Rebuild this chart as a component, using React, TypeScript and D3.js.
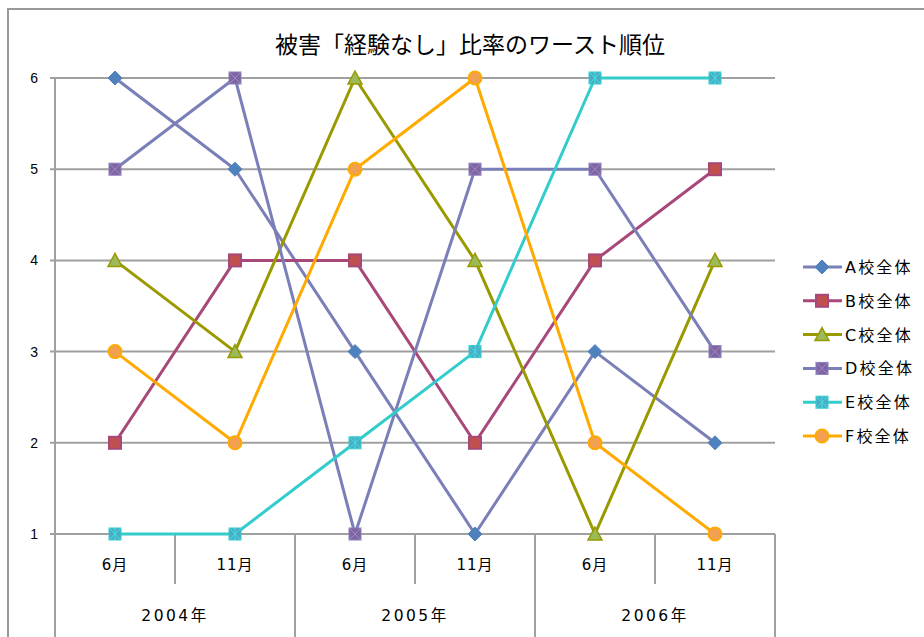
import React from "react";
import * as d3 from "d3";

const title = "被害「経験なし」比率のワースト順位";
const months = ["6月", "11月", "6月", "11月", "6月", "11月"];
const years = ["2004年", "2005年", "2006年"];
const yTicks = [1, 2, 3, 4, 5, 6];

const seriesNames = ["A校全体", "B校全体", "C校全体", "D校全体", "E校全体", "F校全体"];
const seriesA = [6, 5, 3, 1, 3, 2];
const seriesB = [2, 4, 4, 2, 4, 5];
const seriesC = [4, 3, 6, 4, 1, 4];
const seriesD = [5, 6, 1, 5, 5, 3];
const seriesE = [1, 1, 2, 3, 6, 6];
const seriesF = [3, 2, 5, 6, 2, 1];

const styles = [
  { line: "#7b7fb8", fill: "#4f81bd", stroke: "#4f81bd", marker: "diamond" },
  { line: "#a8487a", fill: "#c0504d", stroke: "#a8487a", marker: "square" },
  { line: "#999900", fill: "#9bbb59", stroke: "#999900", marker: "triangle" },
  { line: "#7b7fb8", fill: "#8064a2", stroke: "#8a7fbc", marker: "squarex" },
  { line: "#33cccc", fill: "#4bacc6", stroke: "#33cccc", marker: "squarestar" },
  { line: "#ffaa00", fill: "#f0a050", stroke: "#ffaa00", marker: "circle" },
];

const FONT = "'Noto Sans CJK JP', 'Noto Sans', sans-serif";
const WIDE = "'DejaVu Sans', 'Noto Sans CJK JP', sans-serif";

function Marker({ type, x, y, fill, stroke }: any) {
  const s = 6;
  if (type === "diamond") {
    return <path d={`M${x},${y - 7}L${x + 7},${y}L${x},${y + 7}L${x - 7},${y}Z`} fill={fill} stroke={stroke} strokeWidth={1} />;
  }
  if (type === "square") {
    return <rect x={x - s} y={y - s} width={2 * s} height={2 * s} fill={fill} stroke={stroke} strokeWidth={2} />;
  }
  if (type === "triangle") {
    return <path d={`M${x},${y - 7}L${x + 7},${y + 6}L${x - 7},${y + 6}Z`} fill={fill} stroke={stroke} strokeWidth={1.5} />;
  }
  if (type === "squarex") {
    return (
      <g>
        <rect x={x - s} y={y - s} width={2 * s} height={2 * s} fill={fill} stroke={stroke} strokeWidth={1} />
        <path d={`M${x - s},${y - s}L${x + s},${y + s}M${x + s},${y - s}L${x - s},${y + s}`} stroke="#9a8cc8" strokeWidth={1} />
      </g>
    );
  }
  if (type === "squarestar") {
    return (
      <g>
        <rect x={x - s} y={y - s} width={2 * s} height={2 * s} fill={fill} stroke={stroke} strokeWidth={1} />
        <path d={`M${x - s},${y - s}L${x + s},${y + s}M${x + s},${y - s}L${x - s},${y + s}M${x},${y - s}L${x},${y + s}`} stroke="#40e0e0" strokeWidth={1} />
      </g>
    );
  }
  return <circle cx={x} cy={y} r={6.5} fill={fill} stroke={stroke} strokeWidth={2} />;
}

export default function App() {
  const W = 924, H = 637;
  const left = 55, right = 775, top = 78, bottom = 534;
  const data = [seriesA, seriesB, seriesC, seriesD, seriesE, seriesF];

  const x = d3.scaleBand<number>().domain(d3.range(months.length)).range([left, right]);
  const y = d3.scaleLinear().domain([1, 6]).range([bottom, top]);
  const line = d3.line<number>().x((_, i) => x(i)! + x.bandwidth() / 2).y((d) => y(d));

  const yearBand = d3.scaleBand<number>().domain(d3.range(years.length)).range([left, right]);

  return (
    <svg width={W} height={H} style={{ position: "absolute", left: 0, top: 0, background: "#fff" }} fontFamily={FONT}>
      <rect x={8} y={9} width={W} height={H} fill="#fff" stroke="#999" strokeWidth={2} />
      <text x={470} y={53} textAnchor="middle" fontSize={23} fill="#000">{title}</text>

      {yTicks.map((t) => (
        <g key={t}>
          <line x1={left - 5} x2={right} y1={y(t)} y2={y(t)} stroke="#a0a0a0" strokeWidth={2} />
          <text x={38} y={y(t) + 5} textAnchor="end" fontSize={14} fill="#000" fontFamily="'Liberation Sans', sans-serif">{t}</text>
        </g>
      ))}
      <line x1={left} x2={left} y1={top} y2={H} stroke="#a0a0a0" strokeWidth={2} />

      {months.map((m, i) => (
        <g key={"m" + i}>
          <text x={x(i)! + x.bandwidth() / 2} y={570} textAnchor="middle" fontSize={15} letterSpacing={1} fill="#000" fontFamily={WIDE}>{m}</text>
          {i % 2 === 0 ? (
            <line x1={x(i)! + x.bandwidth()} x2={x(i)! + x.bandwidth()} y1={bottom} y2={584} stroke="#a0a0a0" strokeWidth={2} />
          ) : null}
        </g>
      ))}
      {years.map((yr, i) => (
        <g key={"y" + i}>
          <text x={yearBand(i)! + yearBand.bandwidth() / 2} y={621} textAnchor="middle" fontSize={15.5} letterSpacing={2.5} fill="#000" fontFamily={WIDE}>{yr}</text>
          <line x1={yearBand(i)! + yearBand.bandwidth()} x2={yearBand(i)! + yearBand.bandwidth()} y1={bottom} y2={H} stroke="#a0a0a0" strokeWidth={2} />
        </g>
      ))}

      {data.map((s, k) => (
        <path key={"l" + k} d={line(s)!} fill="none" stroke={styles[k].line} strokeWidth={3} strokeLinejoin="round" />
      ))}
      {data.map((s, k) => (
        <g key={"mk" + k}>
          {s.map((v, i) => (
            <Marker key={i} type={styles[k].marker} x={x(i)! + x.bandwidth() / 2} y={y(v)} fill={styles[k].fill} stroke={styles[k].stroke} />
          ))}
        </g>
      ))}

      {seriesNames.map((n, k) => {
        const ly = 267 + k * 33.8;
        return (
          <g key={"lg" + k}>
            <line x1={803} x2={842} y1={ly} y2={ly} stroke={styles[k].line} strokeWidth={3} />
            <Marker type={styles[k].marker} x={822} y={ly} fill={styles[k].fill} stroke={styles[k].stroke} />
            <text x={845} y={ly + 6} fontSize={16} letterSpacing={2.2} fill="#000" fontFamily={WIDE}>{n}</text>
          </g>
        );
      })}
    </svg>
  );
}
